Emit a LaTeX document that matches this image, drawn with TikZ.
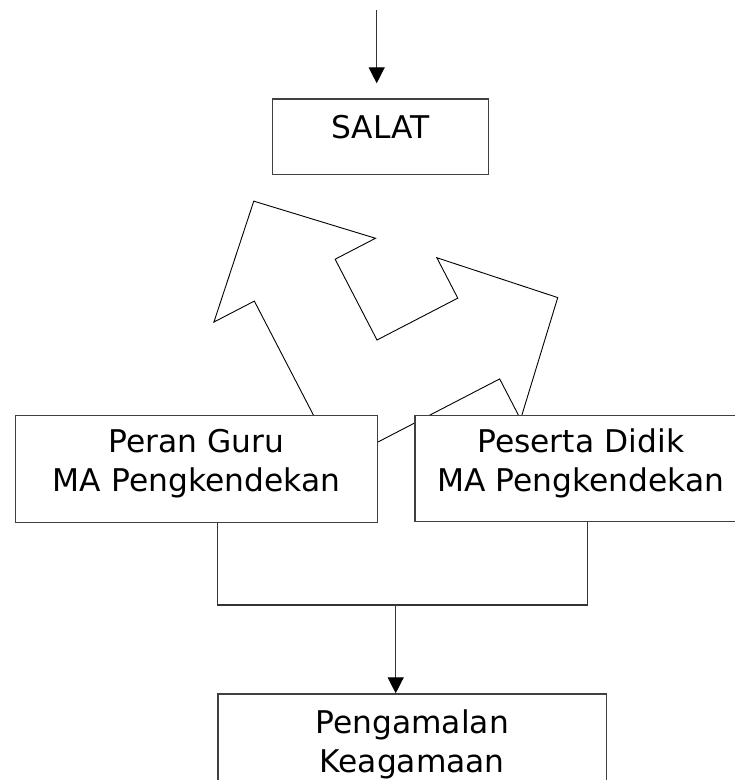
\documentclass[tikz,border=0pt]{standalone}
\usepackage{fontspec}
\setmainfont{DejaVu Sans}
\usetikzlibrary{arrows.meta}

\begin{document}
\begin{tikzpicture}[
    x=1pt, y=-1pt,
    >={Triangle[width=16pt,length=16pt,color=black]},
    every node/.style={font=\fontsize{31.3}{38.5}\selectfont},
    box/.style={draw=black!75, line width=1.3pt, fill=white, inner sep=0pt, align=center, anchor=north west},
    link/.style={draw=black!80, line width=1.3pt},
    outline/.style={draw=black, line width=0.9pt, line join=miter}
]
    \useasboundingbox (0,0) rectangle (735,780);

    % bent double arrow, drawn first so the boxes cover its foot
    \begin{scope}[shift={(377,340)}, rotate=27.4, x=1pt, y=1pt]
        \draw[outline] (0,0) -- (91,0) -- (91,45.5) -- (180,-45.5) -- (91,-136.5) -- (91,-91)
            -- (-91,-91) -- (-91,91) -- (-136.5,91) -- (-45.5,180) -- (45.5,91) -- (0,91) -- cycle;
    \end{scope}

    \node[box, text width=216pt, text height=39.7pt, text depth=36pt] (salat) at (271.7,98.3) {SALAT};
    \node[box, text width=362pt, text height=37pt, text depth=69.7pt] (peran) at (14.7,415) {Peran Guru\\MA Pengkendekan};
    \node[box, text width=331.7pt, text height=37pt, text depth=69pt] (peserta) at (414.3,415) {Peserta Didik\\MA Pengkendekan};
    \node[box, text width=388.4pt, text height=39.7pt, text depth=70pt] (amal) at (217.3,693.3) {Pengamalan\\Keagamaan};

    \coordinate (feed) at (376.7,10);
    \coordinate (joinL) at (217.7,605);
    \coordinate (joinM) at (395.7,605);
    \coordinate (joinR) at (587.7,605);

    \draw[link, ->, shorten >=15pt] (feed) -- (feed |- salat.north);
    \draw[link] (peran.south -| joinL) -- (joinL) -- (joinR) -- (peserta.south -| joinR);
    \draw[link, ->] (joinM) -- (joinM |- amal.north);
\end{tikzpicture}
\end{document}
